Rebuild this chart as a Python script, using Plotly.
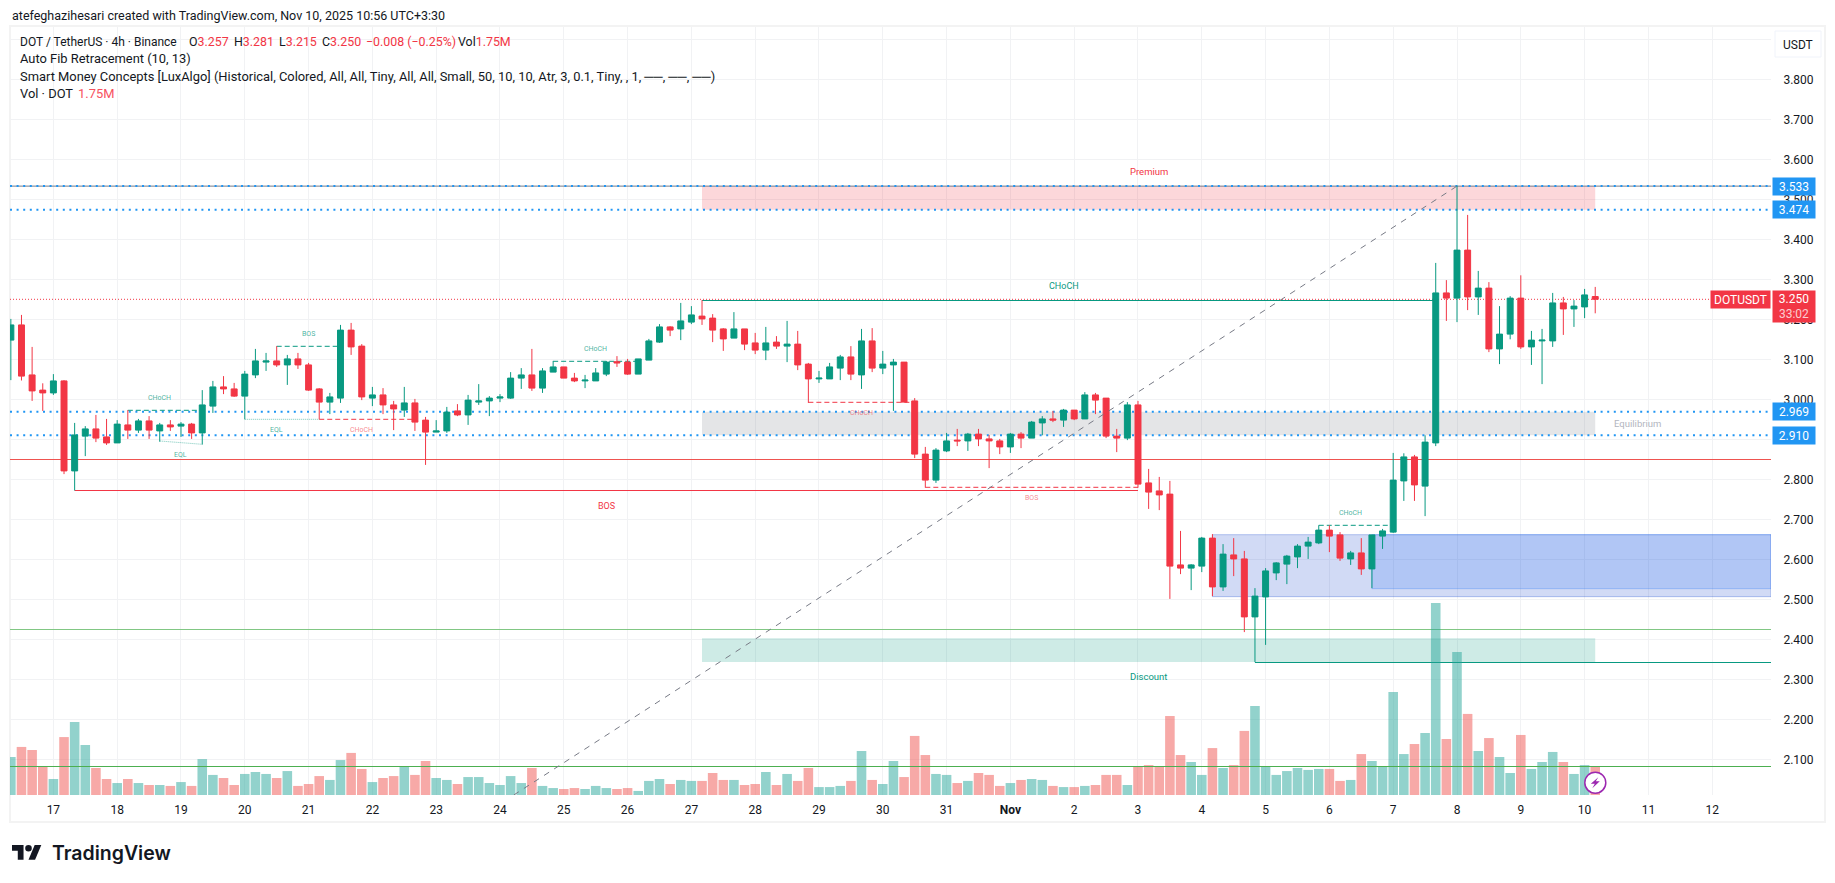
import pandas as pd
import plotly.graph_objects as go

# 4h candles, first one is 4 bars before the "17" gridline
opens = [3.148, 3.186, 3.061, 3.023, 3.016, 3.046, 2.821, 2.908, 2.926, 2.906,
         2.891, 2.936, 2.923, 2.946, 2.921, 2.936, 2.933, 2.938, 2.916, 2.983,
         3.031, 3.026, 3.008, 3.061, 3.093, 3.096, 3.086, 3.101, 3.086, 3.026,
         2.993, 3.003, 3.173, 3.133, 3.003, 3.011, 2.986, 2.973, 2.991, 2.948,
         2.918, 2.921, 2.971, 2.961, 2.993, 2.996, 3.003, 3.003, 3.053, 3.061,
         3.028, 3.068, 3.081, 3.053, 3.046, 3.046, 3.063, 3.094, 3.093, 3.063,
         3.098, 3.143, 3.181, 3.176, 3.193, 3.208, 3.203, 3.176, 3.153, 3.176,
         3.141, 3.123, 3.143, 3.133, 3.138, 3.088, 3.051, 3.051, 3.078, 3.106,
         3.061, 3.146, 3.078, 3.086, 3.093, 2.996, 2.863, 2.798, 2.871, 2.898,
         2.896, 2.913, 2.901, 2.896, 2.881, 2.913, 2.903, 2.941, 2.951, 2.948,
         2.973, 2.951, 3.011, 3.003, 2.908, 2.903, 2.986, 2.791, 2.771, 2.763,
         2.586, 2.578, 2.583, 2.653, 2.531, 2.611, 2.601, 2.456, 2.506, 2.566,
         2.588, 2.606, 2.633, 2.641, 2.673, 2.661, 2.601, 2.616, 2.576, 2.658,
         2.668, 2.796, 2.856, 2.783, 2.891, 3.266, 3.253, 3.373, 3.256, 3.278,
         3.126, 3.163, 3.253, 3.131, 3.146, 3.146, 3.241, 3.226, 3.231, 3.257]
highs = [3.201, 3.211, 3.131, 3.040, 3.063, 3.048, 2.941, 2.933, 2.961, 2.951,
         2.948, 2.973, 2.951, 2.958, 2.941, 2.948, 2.943, 2.941, 3.023, 3.046,
         3.058, 3.041, 3.071, 3.126, 3.116, 3.133, 3.111, 3.116, 3.091, 3.028,
         3.016, 3.186, 3.191, 3.138, 3.031, 3.028, 2.996, 3.031, 3.001, 2.956,
         2.948, 2.981, 2.988, 3.011, 3.038, 3.008, 3.013, 3.068, 3.078, 3.126,
         3.078, 3.096, 3.081, 3.066, 3.061, 3.078, 3.096, 3.108, 3.101, 3.101,
         3.151, 3.188, 3.183, 3.241, 3.233, 3.248, 3.213, 3.178, 3.218, 3.176,
         3.166, 3.181, 3.158, 3.196, 3.171, 3.091, 3.071, 3.091, 3.111, 3.133,
         3.176, 3.178, 3.121, 3.101, 3.093, 3.003, 2.881, 2.878, 2.916, 2.926,
         2.916, 2.926, 2.911, 2.901, 2.916, 2.918, 2.946, 2.958, 2.971, 2.976,
         2.973, 3.018, 3.016, 3.003, 2.926, 2.993, 2.996, 2.826, 2.806, 2.796,
         2.671, 2.588, 2.656, 2.663, 2.638, 2.653, 2.621, 2.528, 2.578, 2.593,
         2.611, 2.638, 2.656, 2.685, 2.685, 2.668, 2.621, 2.653, 2.661, 2.676,
         2.866, 2.865, 2.861, 2.910, 3.341, 3.298, 3.534, 3.461, 3.321, 3.293,
         3.233, 3.258, 3.310, 3.171, 3.176, 3.266, 3.256, 3.248, 3.276, 3.281]
lows = [3.048, 3.047, 2.996, 2.971, 3.011, 2.813, 2.772, 2.858, 2.893, 2.886,
        2.891, 2.901, 2.916, 2.901, 2.894, 2.921, 2.906, 2.901, 2.887, 2.966,
        3.013, 3.006, 2.950, 3.053, 3.071, 3.081, 3.036, 3.076, 3.021, 2.950,
        2.963, 2.991, 3.111, 2.998, 2.983, 2.963, 2.923, 2.956, 2.921, 2.836,
        2.918, 2.916, 2.958, 2.936, 2.986, 2.958, 2.993, 3.001, 3.026, 3.021,
        3.016, 3.068, 3.053, 3.043, 3.028, 3.046, 3.058, 3.081, 3.061, 3.063,
        3.098, 3.141, 3.158, 3.148, 3.188, 3.186, 3.143, 3.121, 3.153, 3.123,
        3.113, 3.098, 3.126, 3.093, 3.073, 2.991, 3.041, 3.051, 3.048, 3.048,
        3.026, 3.068, 3.063, 2.971, 2.993, 2.853, 2.779, 2.791, 2.868, 2.883,
        2.871, 2.883, 2.828, 2.863, 2.866, 2.878, 2.903, 2.910, 2.943, 2.931,
        2.948, 2.951, 2.963, 2.903, 2.868, 2.898, 2.779, 2.726, 2.723, 2.501,
        2.563, 2.523, 2.568, 2.508, 2.521, 2.558, 2.418, 2.343, 2.386, 2.548,
        2.538, 2.578, 2.601, 2.638, 2.618, 2.596, 2.586, 2.561, 2.528, 2.626,
        2.666, 2.746, 2.746, 2.708, 2.883, 3.196, 3.193, 3.223, 3.211, 3.118,
        3.088, 3.150, 3.126, 3.086, 3.038, 3.131, 3.161, 3.181, 3.203, 3.215]
closes = [3.186, 3.058, 3.021, 3.016, 3.046, 2.821, 2.911, 2.926, 2.903, 2.891,
          2.938, 2.923, 2.946, 2.923, 2.936, 2.931, 2.938, 2.916, 2.986, 3.031,
          3.026, 3.008, 3.063, 3.096, 3.096, 3.086, 3.101, 3.086, 3.023, 2.993,
          3.006, 3.173, 3.131, 3.006, 3.011, 2.986, 2.976, 2.991, 2.943, 2.918,
          2.921, 2.968, 2.961, 2.998, 2.996, 3.003, 3.006, 3.053, 3.061, 3.028,
          3.071, 3.081, 3.053, 3.046, 3.048, 3.066, 3.093, 3.091, 3.063, 3.101,
          3.146, 3.181, 3.173, 3.196, 3.211, 3.201, 3.173, 3.151, 3.176, 3.138,
          3.123, 3.141, 3.133, 3.138, 3.086, 3.051, 3.053, 3.081, 3.106, 3.063,
          3.146, 3.078, 3.088, 3.093, 2.993, 2.863, 2.798, 2.873, 2.896, 2.896,
          2.913, 2.901, 2.896, 2.881, 2.913, 2.903, 2.943, 2.951, 2.948, 2.973,
          2.951, 3.011, 2.998, 2.908, 2.903, 2.986, 2.788, 2.768, 2.761, 2.583,
          2.578, 2.586, 2.653, 2.531, 2.613, 2.601, 2.456, 2.508, 2.571, 2.591,
          2.608, 2.633, 2.643, 2.673, 2.658, 2.603, 2.616, 2.576, 2.661, 2.671,
          2.798, 2.856, 2.786, 2.893, 3.266, 3.253, 3.373, 3.256, 3.278, 3.126,
          3.163, 3.253, 3.131, 3.148, 3.148, 3.241, 3.226, 3.233, 3.261, 3.250]
# volume in millions
volumes = [2.35, 2.97, 2.78, 1.73, 0.99, 3.58, 4.51, 3.09, 1.67, 0.99,
           0.74, 0.99, 0.74, 0.62, 0.62, 0.56, 0.80, 0.56, 2.22, 1.24,
           1.05, 0.62, 1.30, 1.42, 1.30, 1.05, 1.48, 0.56, 0.68, 1.17,
           0.93, 2.16, 2.60, 1.61, 0.80, 1.05, 1.17, 1.79, 1.24, 2.10,
           1.05, 0.93, 0.68, 1.11, 1.11, 0.74, 0.62, 1.17, 0.74, 1.67,
           0.56, 0.43, 0.37, 0.43, 0.37, 0.56, 0.43, 0.37, 0.43, 0.25,
           0.87, 0.99, 0.68, 0.93, 0.87, 0.87, 1.36, 0.93, 0.93, 0.62,
           0.68, 1.42, 0.62, 1.30, 0.87, 1.67, 0.49, 0.49, 0.56, 0.87,
           2.72, 0.93, 0.68, 2.10, 1.11, 3.65, 2.47, 1.30, 1.24, 0.74,
           0.87, 1.36, 1.24, 0.56, 0.74, 0.93, 0.99, 0.93, 0.56, 0.49,
           0.49, 0.56, 0.62, 1.24, 1.24, 0.62, 1.73, 1.85, 1.73, 4.88,
           2.47, 2.04, 1.24, 2.90, 1.67, 1.85, 3.96, 5.50, 1.75, 1.24,
           1.48, 1.67, 1.55, 1.61, 1.61, 0.87, 0.93, 2.53, 2.10, 1.75,
           6.37, 2.53, 3.15, 3.83, 11.87, 3.46, 8.84, 5.01, 2.72, 3.52,
           2.35, 1.36, 3.71, 1.61, 2.04, 2.66, 2.04, 1.30, 1.85, 1.75]

day_labels = ["17", "18", "19", "20", "21", "22", "23", "24", "25", "26", "27", "28", "29",
              "30", "31", "<b>Nov</b>", "2", "3", "4", "5", "6", "7", "8", "9", "10", "11", "12"]

fib_levels = [3.533, 3.474, 2.969, 2.910]
red_level = 2.8495
light_green_level = 2.4245
vol_level = 2.082
last_price = 3.250

# structure breaks: text, start bar, end bar, price, bullish
structures = [
    ("CHoCH", 7, 14, 2.9725, True),
    ("BOS", 21, 27, 3.1325, True),
    ("CHoCH", 25, 34, 2.950, False),
    ("CHoCH", 47, 55, 3.095, True),
    ("CHoCH", 71, 81, 2.9925, False),
    ("BOS", 82, 102, 2.780, False),
    ("CHoCH", 119, 126, 2.685, True),
]
eql_lines = [(18, 25, 2.950, 2.950), (10, 14, 2.8958, 2.8875)]
swing_lines = [("BOS", 2, 102, 2.772, False), ("CHoCH", 61, 130, 3.247, True)]
low_line = (113, 2.342)
zones = [("Premium", 3.533, 3.474), ("Equilibrium", 2.969, 2.910), ("Discount", 2.4025, 2.3433)]
order_blocks = [(109, 2.6616, 2.5066), (124, 2.6616, 2.5266)]
fib_trend = (43.3, 2.0108, 132, 3.533)

UP = "#089981"
DOWN = "#F23645"
BLUE = "#2196F3"
TEXT = "#131722"
FONT = "Roboto, sans-serif"

# chart pane in screen pixels
LEFT, RIGHT, TOP, BOTTOM = 10, 1771, 27, 795
VIEW_START, VIEW_END = -4.08, 161.53


def bar_time(i):
    return pd.Timestamp("2025-10-17 00:00") + pd.Timedelta(hours=4) * i


def px(x):
    return (x - LEFT) / (RIGHT - LEFT)


def py(y):
    return (BOTTOM - y) / (BOTTOM - TOP)


def pt(x, y):
    return f"{px(x):.5f},{py(y):.5f}"


def poly(points):
    return "M" + " L".join(pt(x, y) for x, y in points) + " Z"


times = [bar_time(i - 4) for i in range(len(opens))]
vol_colors = ["rgba(38,166,154,0.5)" if c >= o else "rgba(239,83,80,0.5)" for o, c in zip(opens, closes)]

fig = go.Figure()
fig.add_trace(go.Candlestick(
    x=times, open=opens, high=highs, low=lows, close=closes, whiskerwidth=0,
    increasing=dict(line=dict(color=UP, width=1), fillcolor=UP),
    decreasing=dict(line=dict(color=DOWN, width=1), fillcolor=DOWN),
    hoverinfo="skip",
))
fig.add_trace(go.Bar(x=times, y=volumes, marker=dict(color=vol_colors, line_width=0), yaxis="y2", hoverinfo="skip"))

shapes = []
annotations = []


def segment(i0, p0, i1, p1, color, width=1, dash="solid", layer="between"):
    shapes.append(dict(type="line", xref="x", yref="y", x0=bar_time(i0), x1=bar_time(i1), y0=p0, y1=p1,
                       line=dict(color=color, width=width, dash=dash), layer=layer))


def level(price, color, width=1, dash="solid", layer="between"):
    segment(VIEW_START, price, VIEW_END, price, color, width, dash, layer)


def label(text, i, price, color, size, yshift):
    annotations.append(dict(text=text, xref="x", yref="y", x=bar_time(i), y=price, showarrow=False,
                            font=dict(color=color, size=size, family=FONT), yshift=yshift))


# zones
zone_fills = ["rgba(242,54,69,0.2)", "rgba(120,123,134,0.2)", "rgba(8,153,129,0.2)"]
for (name, top, bot), fill in zip(zones, zone_fills):
    shapes.append(dict(type="rect", xref="x", yref="y", x0=bar_time(61), x1=bar_time(145), y0=bot, y1=top,
                       fillcolor=fill, line_width=0, layer="between"))
label("Premium", 103, 3.533, DOWN, 9.5, 15)
label("Discount", 103, 2.3433, UP, 9.5, -15)
label("Equilibrium", 149, 2.9395, "#B2B5BE", 9.5, 0)

for (start, top, bot), rgb in zip(order_blocks, ["24,72,204", "49,121,245"]):
    shapes.append(dict(type="rect", xref="x", yref="y", x0=bar_time(start), x1=bar_time(VIEW_END), y0=bot, y1=top,
                       fillcolor=f"rgba({rgb},0.2)", line=dict(color=f"rgba({rgb},0.3)", width=1), layer="between"))

level(fib_levels[0], "#787B86", 1)
for price in fib_levels:
    level(price, BLUE, 2, "2px,4.6px")
level(red_level, "#EF5350", 1)
level(light_green_level, "#81C784", 1)
level(vol_level, "#4CAF50", 1, layer="above")
level(last_price, DOWN, 1, "1px,2px")

# fib trend line
segment(fib_trend[0], fib_trend[1], fib_trend[2], fib_trend[3], "#787B86", 1, "6px,6px", "above")

for text, a, b, price, bull in structures:
    color = UP if bull else DOWN
    segment(a, price, b, price, color, 1, "5px,3px")
    label(text, (a + b) // 2, price, "rgba(8,153,129,0.75)" if bull else "rgba(242,54,69,0.6)", 7, 12 if bull else -11)
for a, b, p0, p1 in eql_lines:
    segment(a, p0, b, p1, "rgba(8,153,129,0.55)", 1, "1px,1px")
    label("EQL", (a + b) // 2, min(p0, p1), "rgba(8,153,129,0.75)", 7, -11)
for text, a, b, price, bull in swing_lines:
    color = UP if bull else DOWN
    segment(a, price, b, price, color, 1)
    label(text, (a + b) // 2, price, color, 9, 15 if bull else -15)
segment(low_line[0], low_line[1], VIEW_END, low_line[1], UP, 1)

# screenshot frame
shapes.append(dict(type="rect", xref="paper", yref="paper", x0=px(10), x1=px(1825), y0=py(822), y1=py(26),
                   line=dict(color="#F3F3F3", width=2), fillcolor="rgba(0,0,0,0)", layer="below"))
# currency button
shapes.append(dict(type="rect", xref="paper", yref="paper", x0=px(1775), x1=px(1821), y0=py(57), y1=py(31),
                   line=dict(color="#F0F3FA", width=1), fillcolor="white", layer="above"))


def screen_text(text, x, y, color=TEXT, size=13, xanchor="left", **kw):
    annotations.append(dict(text=text, xref="paper", yref="paper", x=px(x), y=py(y), xanchor=xanchor, yanchor="middle",
                            showarrow=False, align="left", font=dict(color=color, size=size, family=kw.pop("family", FONT), **kw)))


def red(text):
    return f'<span style="color:{DOWN}">{text}</span>'


screen_text("USDT", 1798, 44.5, size=12, xanchor="center")
screen_text("atefeghazihesari created with TradingView.com, Nov 10, 2025 10:56 UTC+3:30", 10, 15, size=12.5)

# legend rows
screen_text("DOT / TetherUS · 4h · Binance", 18, 41.5, size=12)
screen_text(f"O{red('3.257')}", 187, 41.5, size=12.4)
screen_text(f"H{red('3.281')}", 232, 41.5, size=12.4)
screen_text(f"L{red('3.215')}", 277, 41.5, size=12.4)
screen_text(f"C{red('3.250')}", 320, 41.5, size=12.4)
screen_text(red("−0.008 (−0.25%)"), 364, 41.5, size=12.4)
screen_text(f"Vol{red('1.75M')}", 456, 41.5, size=12.4)
screen_text("Auto Fib Retracement (10, 13)", 18, 59, size=12.9)
screen_text("Smart Money Concepts [LuxAlgo] (Historical, Colored, All, All, Tiny, All, All, Small, 50, 10, 10, Atr, 3, 0.1, "
            "Tiny, , 1, ──, ──, ──)", 18, 76, size=12.9)
screen_text("Vol · DOT", 18, 93, size=12.9)
screen_text("1.75M", 76, 93, color="#F7525F", size=12.9)


def price_tag(text, price, bg, height=17, width=42, yshift=0):
    annotations.append(dict(text=text, xref="paper", yref="y", x=px(1772), y=price, xanchor="left", yanchor="middle", showarrow=False,
                            width=width, height=height, bgcolor=bg, font=dict(color="white", size=12, family=FONT),
                            align="center", valign="middle", yshift=yshift, borderpad=0))


for price in fib_levels:
    price_tag(f"{price:.3f}", price, BLUE)
price_tag(f"{last_price:.3f}<br><span style='color:rgba(255,255,255,0.75)'>33:02</span>", last_price, DOWN, height=31, yshift=-7)
annotations.append(dict(text="DOTUSDT", xref="paper", yref="y", x=px(1771), y=last_price, xanchor="right", yanchor="middle",
                        showarrow=False, width=59, height=17, bgcolor=DOWN, font=dict(color="white", size=12, family=FONT),
                        align="center", valign="middle", borderpad=0))

# TradingView logo (36x28 box), drawn as shapes
LOGO_X, LOGO_Y, LOGO_S = 12, 845, 0.825


def logo(points):
    return poly([(LOGO_X + x * LOGO_S, LOGO_Y + (y - 4) * LOGO_S) for x, y in points])


for path in (logo([(14, 22), (7, 22), (7, 11), (0, 11), (0, 4), (14, 4)]), logo([(28, 22), (20, 22), (27.5, 4), (35.5, 4)])):
    shapes.append(dict(type="path", xref="paper", yref="paper", path=path, fillcolor="#131722", line_width=0, layer="above"))
shapes.append(dict(type="circle", xref="paper", yref="paper", x0=px(LOGO_X + 16 * LOGO_S), x1=px(LOGO_X + 24 * LOGO_S),
                   y0=py(LOGO_Y + 8 * LOGO_S), y1=py(LOGO_Y), fillcolor="#131722", line_width=0, layer="above"))
screen_text("TradingView", 49.5, 852.5, color="#131722", size=19.5, family="Inter, sans-serif", weight=600)

# countdown bolt marker
cx, cy = 1595.3, 782.7
shapes.append(dict(type="circle", xref="paper", yref="paper", x0=px(cx - 10.5), x1=px(cx + 10.5), y0=py(cy + 10.5), y1=py(cy - 10.5),
                   fillcolor="white", line=dict(color="#9C27B0", width=1.5), layer="above"))
bolt = [(3, -5.5), (-4.5, 1), (-0.5, 1), (-3, 5.5), (4.5, -1.5), (0.5, -1.5)]
shapes.append(dict(type="path", xref="paper", yref="paper", path=poly([(cx + x, cy + y) for x, y in bolt]),
                   fillcolor="#9C27B0", line_width=0, layer="above"))

GRID = "#F1F2F4"
fig.update_layout(
    width=1835, height=883, margin=dict(l=LEFT, r=1835 - RIGHT, t=TOP, b=883 - BOTTOM),
    paper_bgcolor="white", plot_bgcolor="white", showlegend=False, bargap=0.1, boxgap=0.2,
    shapes=shapes, annotations=annotations,
    xaxis=dict(
        type="date", range=[bar_time(VIEW_START), bar_time(VIEW_END)], rangeslider=dict(visible=False),
        tickmode="array", tickvals=[bar_time(i * 6) for i in range(len(day_labels))], ticktext=day_labels,
        showgrid=True, gridcolor=GRID, gridwidth=1, zeroline=False, showline=False,
        ticks="outside", ticklen=4, tickcolor="rgba(0,0,0,0)", tickfont=dict(size=12, color=TEXT, family=FONT),
    ),
    yaxis=dict(
        range=[2.01075, 3.9308], side="right", tick0=2.1, dtick=0.1, tickformat=".3f",
        showgrid=True, gridcolor=GRID, gridwidth=1, zeroline=False, showline=False,
        ticks="outside", ticklen=9, tickcolor="rgba(0,0,0,0)", tickfont=dict(size=12, color=TEXT, family=FONT),
    ),
    yaxis2=dict(range=[0, 47.46], overlaying="y", visible=False, showgrid=False, fixedrange=True),
)

fig.write_html("out.html", config=dict(displayModeBar=False), post_script="document.body.style.margin='0';")
